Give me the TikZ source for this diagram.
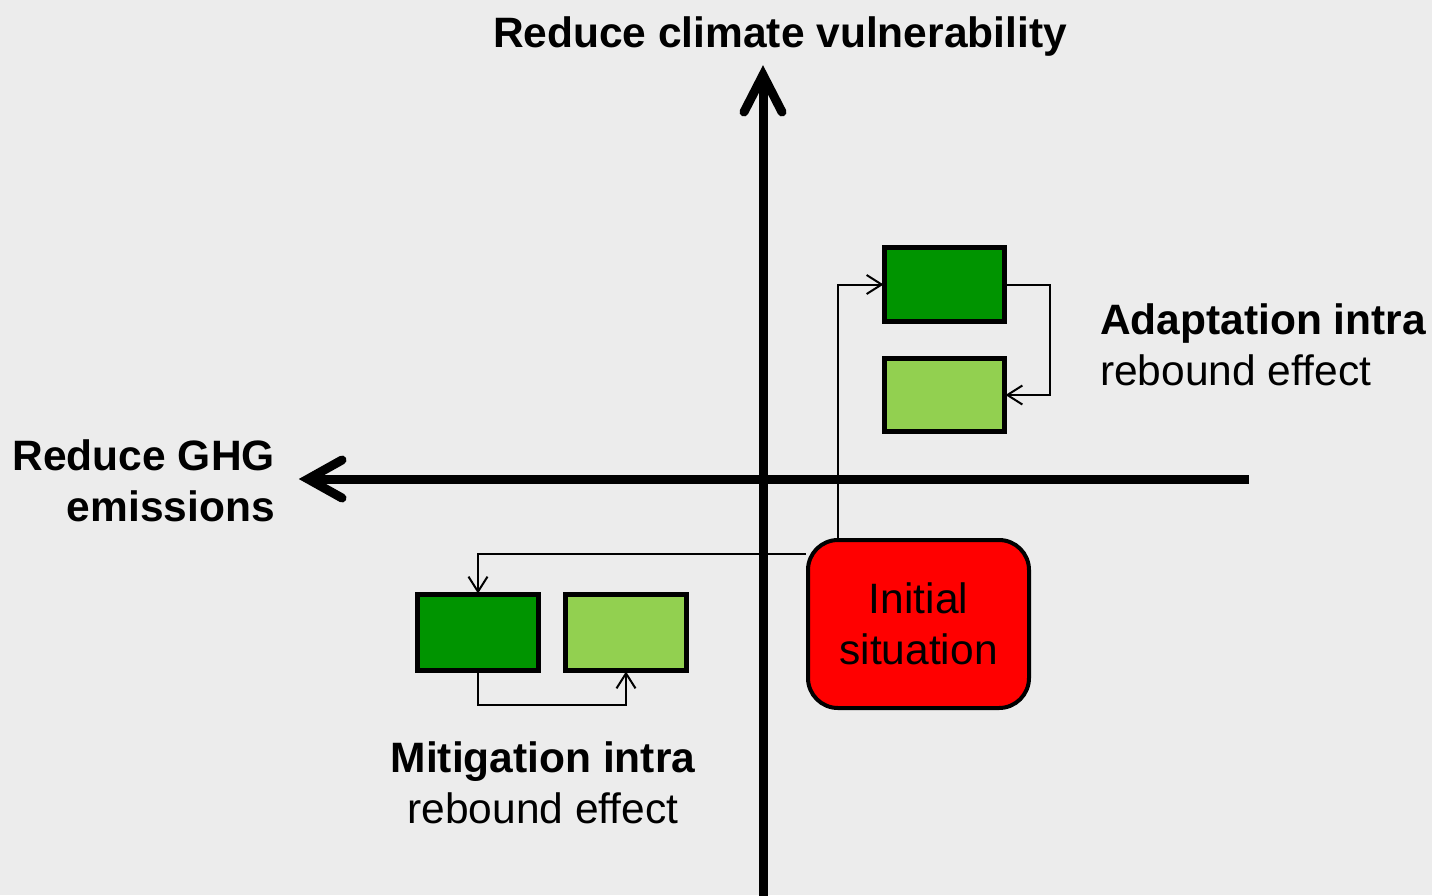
\documentclass[tikz,border=0pt]{standalone}
\usepackage{fontspec}
\setmainfont{Liberation Sans}
\usetikzlibrary{arrows.meta}
\pgfdeclarelayer{bg}
\pgfdeclarelayer{back}
\pgfsetlayers{bg,back,main}
\definecolor{dgreen}{RGB}{0,148,0}
\definecolor{lgreen}{RGB}{146,208,80}
\definecolor{paper}{RGB}{236,236,236}
\begin{document}
\begin{tikzpicture}[x=1pt,y=-1pt,
  box/.style={draw=black, line width=5.5pt, minimum width=120pt, minimum height=74pt, inner sep=0pt, outer sep=0pt},
  darkbox/.style={box, fill=dgreen},
  lightbox/.style={box, fill=lgreen},
  initbox/.style={draw=black, fill=red, line width=4pt, rounded corners=30pt, minimum width=221pt, minimum height=168pt, inner sep=0pt, align=center, font=\fontsize{42.5}{50}\selectfont},
  conn/.style={line width=2pt, -{Straight Barb[length=15pt,width=19pt,line width=2pt]}},
  axis/.style={line width=9pt},
  axishead/.style={line width=9pt, line cap=round, line join=miter},
  boldlab/.style={inner sep=0pt, font=\fontsize{42.5}{50}\selectfont\bfseries},
  normlab/.style={inner sep=0pt, font=\fontsize{42.5}{50}\selectfont}
]
\useasboundingbox (0,0) rectangle (1432,895);
% page
\begin{pgfonlayer}{bg}
  \fill[paper] (0,0) rectangle (1432,895);
\end{pgfonlayer}

% nodes
\node[darkbox] (a1) at (944.5,284.5) {};
\node[lightbox, minimum height=73pt] (a2) at (944.5,395) {};
\node[darkbox, minimum width=121pt, minimum height=76pt] (m1) at (478,632.5) {};
\node[lightbox, minimum width=121pt, minimum height=76pt] (m2) at (626,632.5) {};
\node[initbox] (init) at (918.5,624) {Initial\\[1pt]situation};

% axes coordinates
\coordinate (vtop) at (763,75);
\coordinate (vbot) at (763,900);
\coordinate (vl) at (744,112);
\coordinate (vr) at (782,112);
\coordinate (htip) at (308,479);
\coordinate (hend) at (1249,479);
\coordinate (hu) at (342,460);
\coordinate (hd) at (342,498);

% connector helper coordinates
\coordinate (c1) at (838,0);
\coordinate (c2) at (1050,0);
\coordinate (c3) at (0,554);
\coordinate (c4) at (0,705);

\begin{pgfonlayer}{back}
  \draw[conn, shorten >=1pt] (init.north -| c1) -- (c1 |- a1.west) -- (a1.west);
  \draw[conn, shorten >=1pt] (a1.east) -- (a1.east -| c2) -- (a2.east -| c2) -- (a2.east);
  \draw[conn, shorten >=1pt] (init.west |- c3) -- (m1.north |- c3) -- (m1.north);
  \draw[conn, shorten >=1pt] (m1.south) -- (m1.south |- c4) -- (m2.south |- c4) -- (m2.south);
  \draw[axis] (vbot) -- (vtop);
  \draw[axishead] (vl) -- (vtop) -- (vr);
  \draw[axis] (hend) -- (htip);
  \draw[axishead] (hu) -- (htip) -- (hd);
\end{pgfonlayer}

% labels
\node[boldlab, anchor=base] (title) at (780,47) {Reduce climate vulnerability};
\node[boldlab, anchor=base east] (ghg1) at (275,470) {Reduce GHG};
\node[boldlab, anchor=base east] (ghg2) at (275,521) {emissions};
\node[boldlab, anchor=base west] (ad1) at (1100,334) {Adaptation intra};
\node[normlab, anchor=base west] (ad2) at (1100,385) {rebound effect};
\node[boldlab, anchor=base] (mi1) at (543,772) {Mitigation intra};
\node[normlab, anchor=base] (mi2) at (543,823) {rebound effect};
\end{tikzpicture}
\end{document}
